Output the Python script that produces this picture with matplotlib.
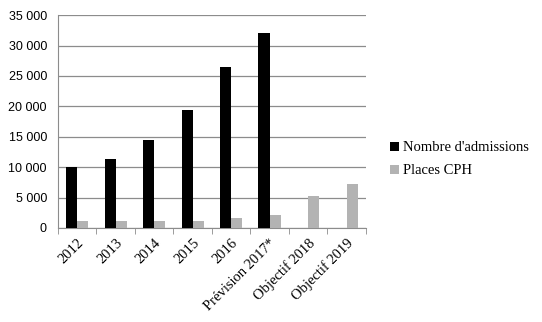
import matplotlib.pyplot as plt
import numpy as np

categories = ["2012", "2013", "2014", "2015", "2016", "Prévision 2017*",
              "Objectif 2018", "Objectif 2019"]
admissions = [10000, 11400, 14500, 19450, 26450, 32000, 0, 0]
places_cph = [1100, 1100, 1100, 1100, 1600, 2200, 5250, 7250]

fig = plt.figure(figsize=(5.42, 3.22), dpi=100)
ax = fig.add_axes([0.107, 0.292, 0.568, 0.661])

x = np.arange(len(categories))
w = 0.29
ax.bar(x - w / 2, admissions, w, color="black", label="Nombre d'admissions", zorder=3)
ax.bar(x + w / 2, places_cph, w, color="#b3b3b3", label="Places CPH", zorder=3)

ax.set_xlim(-0.5, len(categories) - 0.5)
ax.set_ylim(0, 35000)
ax.set_yticks(range(0, 35001, 5000))
ax.set_yticklabels([f"{v:,}".replace(",", " ") for v in range(0, 35001, 5000)],
                   family="Liberation Sans", fontsize=9)
ax.yaxis.grid(True, color="#8c8c8c", linewidth=0.9, zorder=0)
ax.tick_params(axis="y", length=0, pad=8)

ax.set_xticks(x)
ax.set_xticklabels(categories, rotation=45, ha="right", rotation_mode="anchor",
                   family="Liberation Serif", fontsize=10.5)
ax.set_xticks(np.arange(-0.5, len(categories), 1), minor=True)
ax.tick_params(axis="x", which="major", length=0, pad=6)
ax.tick_params(axis="x", which="minor", length=4, color="#8c8c8c")

for s in ["top", "right"]:
    ax.spines[s].set_visible(False)
ax.spines["left"].set_color("#8c8c8c")
ax.spines["bottom"].set_color("#8c8c8c")

fig.legend(loc="center left", bbox_to_anchor=(0.695, 0.505), frameon=False,
           prop={"family": "Liberation Serif", "size": 10.5},
           handlelength=0.6, handleheight=0.6, handletextpad=0.3, labelspacing=0.7)

fig.savefig("out.png", dpi=100)
